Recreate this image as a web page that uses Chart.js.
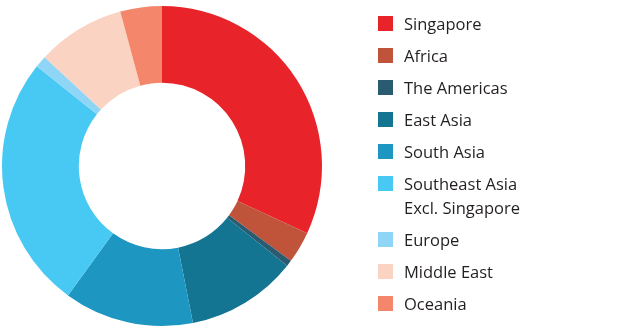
<!DOCTYPE html>
<html>
<head>
<meta charset="utf-8">
<script src="https://cdn.jsdelivr.net/npm/chart.js@4.4.0/dist/chart.umd.min.js"></script>
<style>
  html, body { margin: 0; padding: 0; background: #fff; }
  #wrap { position: relative; width: 639px; height: 327px; }
</style>
</head>
<body>
<div id="wrap"><canvas id="regionChart" width="639" height="327"></canvas></div>
<script>
const regions = ['Singapore', 'Africa', 'The Americas', 'East Asia', 'South Asia',
    ['Southeast Asia', 'Excl. Singapore'], 'Europe', 'Middle East', 'Oceania']
const shares = [31.9, 3.2, 0.6, 11.2, 13.1, 25.7, 1.2, 8.9, 4.2]
const colours = ['#e8232a', '#bf543b', '#2b5b70', '#147593', '#1e96c2',
    '#47c9f3', '#8fd5f5', '#fbd3c3', '#f4866b']

// legend drawn straight on the canvas, right hand side
const sideLegend = {
    id: 'sideLegend',
    afterDraw(chart) {
        const ctx = chart.ctx
        const labels = chart.data.labels
        const bg = chart.data.datasets[0].backgroundColor
        let y = 23.5
        ctx.save()
        ctx.font = '16.5px "Open Sans", sans-serif'
        ctx.textBaseline = 'middle'
        labels.forEach(function(label, i) {
            const lines = Array.isArray(label) ? label : [label]
            ctx.fillStyle = bg[i]
            ctx.fillRect(378, Math.round(y - 7.5), 15, 15)
            ctx.fillStyle = '#231f20'
            lines.forEach(function(line, j) {
                ctx.fillText(line, 404, y + 1.5 + j * 24)
            })
            y += 32 + (lines.length - 1) * 24
        })
        ctx.restore()
    }
}

new Chart(document.getElementById('regionChart'), {
    type: 'doughnut',
    data: {
        labels: regions,
        datasets: [{
            data: shares,
            backgroundColor: colours,
            borderWidth: 0
        }]
    },
    options: {
        responsive: false,
        animation: false,
        cutout: '52%',
        layout: { padding: { left: 2, top: 6, right: 317, bottom: 1 } },
        plugins: {
            legend: { display: false },
            tooltip: { enabled: false }
        }
    },
    plugins: [sideLegend]
})
</script>
</body>
</html>
